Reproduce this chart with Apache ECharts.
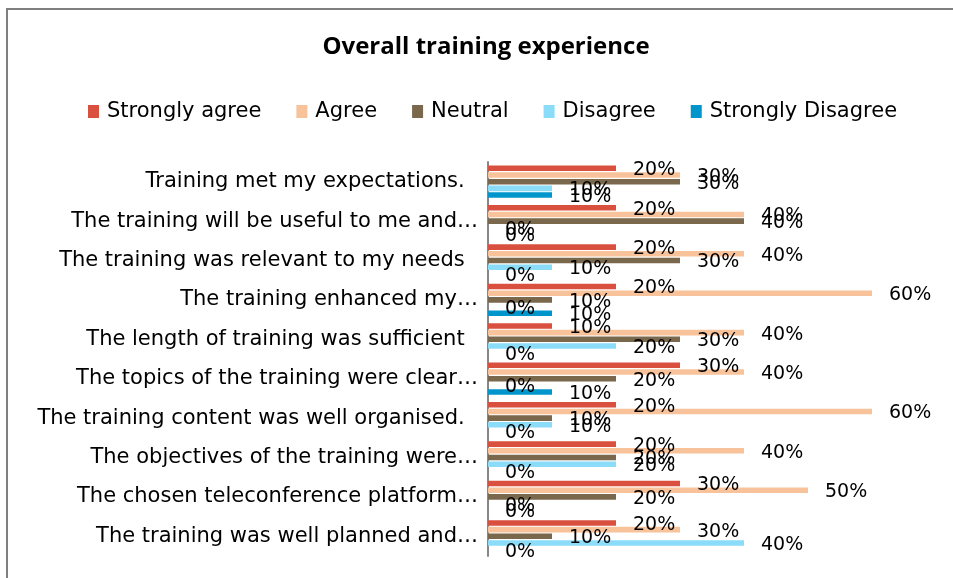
<!DOCTYPE html>
<html>
<head>
<meta charset="utf-8">
<title>Overall training experience</title>
<script src="https://cdn.jsdelivr.net/npm/echarts@6/dist/echarts.min.js"></script>
<style>
  html, body { margin: 0; padding: 0; background: #fff; }
  #chart { width: 953px; height: 578px; }
</style>
</head>
<body>
<div id="chart"></div>
<script>
// statements, top to bottom as shown
var statements = [
  "Training met my expectations.  ",
  "The training will be useful to me and…",
  "The training was relevant to my needs  ",
  "The training enhanced my…",
  "The length of training was sufficient  ",
  "The topics of the training were clear…",
  "The training content was well organised.  ",
  "The objectives of the training were…",
  "The chosen teleconference platform…",
  "The training was well planned and…"
];
var seriesNames = ["Strongly agree", "Agree", "Neutral", "Disagree", "Strongly Disagree"];
var seriesColors = ["#D9503E", "#F8C39A", "#7A684C", "#8ADCF9", "#0096CC"];

// percent of answers
var stronglyAgree    = [20, 20, 20, 20, 10, 30, 20, 20, 30, 20];
var agree            = [30, 40, 40, 60, 40, 40, 60, 40, 50, 30];
var neutral          = [30, 40, 30, 10, 30, 20, 10, 20, 20, 10];
var disagree         = [10, 0, 10, 0, 20, 0, 10, 20, 0, 40];
var stronglyDisagree = [10, 0, 0, 10, 0, 10, 0, 0, 0, 0];

var values = [stronglyAgree, agree, neutral, disagree, stronglyDisagree];

var chart = echarts.init(document.getElementById("chart"));

var series = [];
for (var i = 0; i < seriesNames.length; i++) {
  series.push({
    name: seriesNames[i],
    type: "bar",
    data: values[i],
    itemStyle: { color: seriesColors[i] },
    barGap: "20%",
    barCategoryGap: "18%",
    label: {
      show: true,
      position: "right",
      distance: 17,
      offset: [0, 2],
      formatter: "{c}%",
      color: "#000",
      fontFamily: "DejaVu Sans",
      fontSize: 19
    }
  });
}

var option = {
  backgroundColor: "#fff",
  animation: false,
  title: {
    text: "Overall training experience",
    left: 481,
    top: 30,
    textAlign: "center",
    textStyle: {
      fontFamily: "Open Sans",
      fontWeight: "bold",
      fontSize: 24,
      color: "#000"
    }
  },
  legend: {
    left: 88,
    top: 101,
    padding: 0,
    itemWidth: 11,
    itemHeight: 13,
    itemGap: 35,
    icon: "rect",
    textStyle: {
      fontFamily: "DejaVu Sans",
      fontSize: 21,
      color: "#000",
      padding: [0, 0, 0, 3]
    },
    data: seriesNames
  },
  grid: {
    left: 488,
    right: 17,
    top: 162,
    bottom: 22,
    containLabel: false
  },
  xAxis: {
    type: "value",
    min: 0,
    max: 70,
    show: false
  },
  yAxis: {
    type: "category",
    inverse: true,
    data: statements,
    axisLine: { show: true, lineStyle: { color: "#868686", width: 2 } },
    axisTick: { show: false },
    axisLabel: {
      margin: 10,
      fontFamily: "DejaVu Sans",
      fontSize: 21,
      color: "#000"
    }
  },
  graphic: [
    {
      type: "line",
      shape: { x1: 6, y1: 9, x2: 953, y2: 9 },
      style: { stroke: "#7f7f7f", lineWidth: 2 },
      silent: true
    },
    {
      type: "line",
      shape: { x1: 7, y1: 8, x2: 7, y2: 578 },
      style: { stroke: "#7f7f7f", lineWidth: 2 },
      silent: true
    }
  ],
  series: series
};

chart.setOption(option);
</script>
</body>
</html>
